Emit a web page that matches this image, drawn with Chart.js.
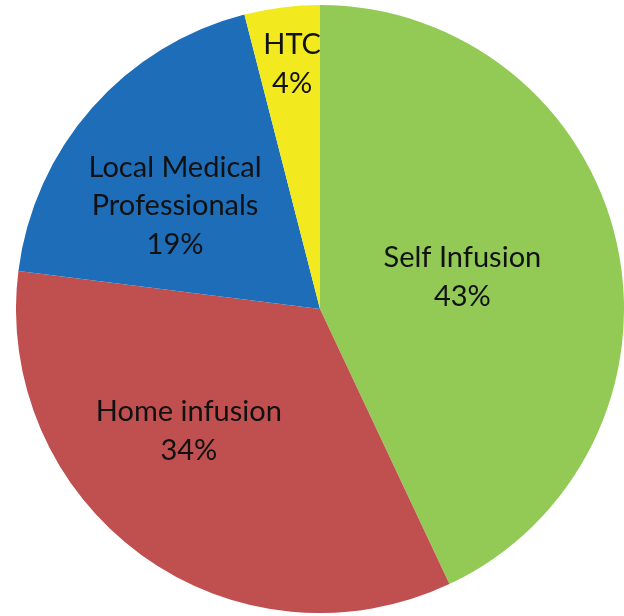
<!DOCTYPE html>
<html>
<head>
<meta charset="utf-8">
<script src="https://cdn.jsdelivr.net/npm/chart.js@4"></script>
<style>
html,body{margin:0;padding:0;background:#fff;overflow:hidden;width:624px;height:616px;}
#wrap{position:absolute;left:16px;top:5px;width:608px;height:608px;}
</style>
</head>
<body>
<div id="wrap"><canvas id="c"></canvas></div>
<script>
const categories = ["Self Infusion", "Home infusion", "Local Medical\nProfessionals", "HTC"];
const values = [43, 34, 19, 4];
const percentLabels = ["43%", "34%", "19%", "4%"];
const colors = ["#92CA55", "#C0504F", "#1E6DB8", "#F2EA1E"];

// label placement (fraction of radius, angular shift in degrees)
const labelRadius = [0.48, 0.59, 0.585, 0.81];
const labelShift = [0, 11, -6, 0.7];

const labelPlugin = {
  id: 'sliceLabels',
  afterDatasetsDraw(chart) {
    const ctx = chart.ctx;
    const meta = chart.getDatasetMeta(0);
    ctx.save();
    ctx.fillStyle = '#111';
    ctx.font = '29px Lato, "Liberation Sans", sans-serif';
    ctx.textAlign = 'center';
    ctx.textBaseline = 'middle';
    meta.data.forEach((arc, i) => {
      const p = arc.getProps(['x','y','startAngle','endAngle','outerRadius'], true);
      const mid = (p.startAngle + p.endAngle) / 2 + labelShift[i] * Math.PI / 180;
      const r = p.outerRadius * labelRadius[i];
      const cx = p.x + Math.cos(mid) * r;
      const cy = p.y + Math.sin(mid) * r;
      const lines = categories[i].split('\n').concat([percentLabels[i]]);
      const lh = 38.5;
      const y0 = cy - (lines.length - 1) * lh / 2;
      lines.forEach((t, k) => ctx.fillText(t, cx, y0 + k * lh));
    });
    ctx.restore();
  }
};

new Chart(document.getElementById('c'), {
  type: 'pie',
  data: {
    labels: categories.map(c => c.replace('\n', ' ')),
    datasets: [{
      data: values,
      backgroundColor: colors,
      borderWidth: 0
    }]
  },
  options: {
    responsive: true,
    maintainAspectRatio: false,
    animation: false,
    layout: { padding: 0 },
    plugins: { legend: { display: false }, tooltip: { enabled: false } }
  },
  plugins: [labelPlugin]
});
</script>
</body>
</html>
